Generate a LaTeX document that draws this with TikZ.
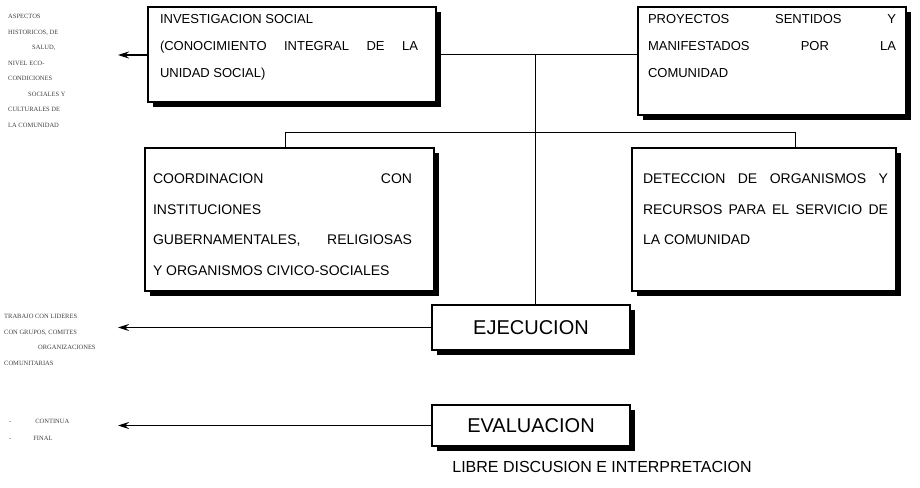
\documentclass[tikz,border=0pt]{standalone}
\usepackage{fontspec}
\setmainfont{Liberation Sans}
\newfontfamily\chica{Liberation Serif}
\usetikzlibrary{positioning}
\usetikzlibrary{arrows.meta}
\usetikzlibrary{shadows}
% texto de caja: ancho, alto, margen arriba, margen izq, margen der, texto
\newcommand{\cajatexto}[6]{\parbox[c][#2][t]{#1}{\setlength{\leftskip}{#4}\setlength{\rightskip}{#5}\vspace*{#3}#6}}
\tikzset{
    caja/.style = {rectangle, draw=black, line width=1.1pt, fill=white, inner sep=0pt,
                   drop shadow={shadow xshift=5pt, shadow yshift=-5pt, fill=black, opacity=1}},
    cajaa/.style = {caja, font=\fontsize{13}{27}\selectfont},
    cajab/.style = {caja, font=\fontsize{14}{30.5}\selectfont},
    etapa/.style = {caja, minimum width=198pt, font=\fontsize{20}{24}\selectfont},
    nota/.style = {align=left, anchor=north west, inner sep=0pt, text=black!75},
    titulo/.style = {inner sep=0pt, font=\fontsize{16}{19}\selectfont},
    linea/.style = {line width=0.8pt},
    flecha/.style = {-{Stealth[length=11pt,width=7pt]}, line width=1.1pt}
}
\begin{document}
\begin{tikzpicture}[x=1pt,y=-1pt]
\useasboundingbox (0,0) rectangle (920,487);
%
\node[cajaa] at (292, 54.5) (inv) {\cajatexto{288pt}{95pt}{7pt}{12pt}{18pt}{%
INVESTIGACION SOCIAL\\
(CONOCIMIENTO\hfill INTEGRAL\hfill DE\hfill LA\\
UNIDAD SOCIAL)}};
\node[cajaa] at (772, 61) (proy) {\cajatexto{268pt}{108pt}{7pt}{10pt}{10pt}{%
PROYECTOS\hfill SENTIDOS\hfill Y\\
MANIFESTADOS\hfill POR\hfill LA\\
COMUNIDAD}};
\node[cajab] at (289.5, 219.5) (coord) {\cajatexto{289pt}{143pt}{26pt}{8pt}{22pt}{%
COORDINACION\hfill CON\\
INSTITUCIONES\\
GUBERNAMENTALES,\hfill RELIGIOSAS\\
Y ORGANISMOS CIVICO-SOCIALES}};
\node[cajab] at (764, 219.5) (detec) {\cajatexto{264pt}{143pt}{26pt}{11pt}{8pt}{%
DETECCION\hfill DE\hfill ORGANISMOS\hfill Y\\
RECURSOS\hfill PARA\hfill EL\hfill SERVICIO\hfill DE\\
LA COMUNIDAD}};
\node[etapa, minimum height=45pt] at (531, 327.5) (ejec) {EJECUCION};
\node[etapa, minimum height=41pt] at (531, 425.5) (eval) {EVALUACION};
\node[titulo] at (602, 467) (libre) {LIBRE DISCUSION E INTERPRETACION};
%
\node[nota, font=\chica\fontsize{6.5}{15.5}\selectfont] at (8, 14) (aspectos) {%
ASPECTOS\\ HISTORICOS, DE\\ \hspace*{24pt}SALUD,\\ NIVEL ECO-\\ CONDICIONES\\
\hspace*{20pt}SOCIALES Y\\ CULTURALES DE\\ LA COMUNIDAD};
\node[nota, font=\chica\fontsize{6.5}{15.5}\selectfont] at (4, 314) (trabajo) {%
TRABAJO CON LIDERES\\ CON GRUPOS, COMITES\\ \hspace*{34pt}ORGANIZACIONES\\ COMUNITARIAS};
\node[nota, font=\chica\fontsize{6.5}{17}\selectfont] at (9, 419) (tipos) {%
-\hspace*{24pt}CONTINUA\\ -\hspace*{22pt}FINAL};
%
\coordinate (cruce) at (535, 55);
\coordinate (izq) at (285, 132);
\coordinate (der) at (795, 132);
\coordinate (punta) at (118, 0);
%
\draw[linea] (inv.east) edge node {} (inv.east -| proy.west);
\draw[linea] (cruce) edge node {} (cruce |- ejec.north);
\draw[linea] (izq) edge node {} (der);
\draw[linea] (izq) edge node {} (izq |- coord.north);
\draw[linea] (der) edge node {} (der |- detec.north);
\draw[flecha] (inv.west |- cruce) -- (punta |- cruce);
\draw[flecha] (ejec.west) -- (ejec.west -| punta);
\draw[flecha] (eval.west) -- (eval.west -| punta);

\end{tikzpicture}
\end{document}
